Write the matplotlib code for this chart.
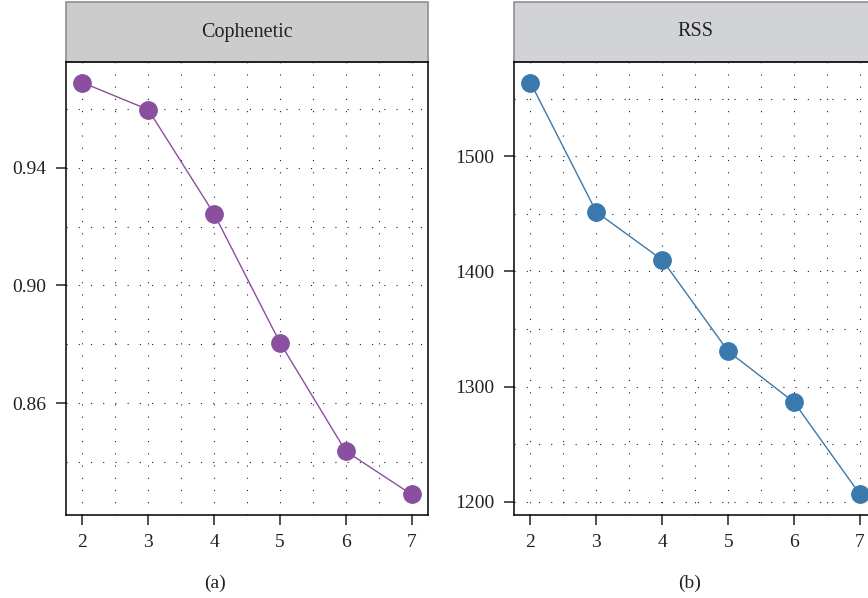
import numpy as np
import matplotlib.pyplot as plt
from matplotlib.patches import Rectangle
from matplotlib.ticker import FixedLocator

# ranks and measures
ranks = [2, 3, 4, 5, 6, 7]
cophenetic = [0.9689, 0.9597, 0.9243, 0.8806, 0.8437, 0.8290]
rss = [1564, 1451.6, 1410, 1330.7, 1286.4, 1206.4]

titles = ["Cophenetic", "RSS"]
captions = ["(a)", "(b)"]
colors = ["#8A4F9E", "#3A79AD"]
strip_fill = ["#CCCCCC", "#D1D3D6"]

y_major = [[0.86, 0.90, 0.94], [1200, 1300, 1400, 1500]]
y_minor = [[0.84, 0.88, 0.92, 0.96], [1250, 1350, 1450, 1550]]
y_labels = [["0.86", "0.90", "0.94"], ["1200", "1300", "1400", "1500"]]
x_minor = [2.5, 3.5, 4.5, 5.5, 6.5]

plt.rcParams['font.family'] = ['Liberation Serif', 'DejaVu Serif']

W, H = 868, 598
fig = plt.figure(figsize=(W / 100, H / 100), dpi=100)

# pixel boxes of the two panels (left, top, right, bottom)
boxes = [(66, 62, 428, 515), (514, 62, 876.5, 515)]
series = [cophenetic, rss]

for i in range(2):
    l, t, r, b = boxes[i]
    ax = fig.add_axes([l / W, (H - b) / H, (r - l) / W, (b - t) / H])
    y = series[i]
    ax.plot(ranks, y, color=colors[i], lw=1.0, marker="o", ms=12.5,
            mfc=colors[i], mec=colors[i], zorder=3, clip_on=False)

    span = max(y) - min(y)
    ax.set_ylim(min(y) - 0.05 * span, max(y) + 0.05 * span)
    ax.set_xlim(1.75, 7.25)
    ax.set_xticks(ranks)
    ax.xaxis.set_minor_locator(FixedLocator(x_minor))
    ax.set_yticks(y_major[i], y_labels[i])
    ax.yaxis.set_minor_locator(FixedLocator(y_minor[i]))

    ax.grid(True, which="both", color="#222222", lw=0.8, ls=(0, (1, 10)))
    ax.set_axisbelow(True)
    for s in ax.spines.values():
        s.set_color("black")
        s.set_linewidth(1.1)
    ax.tick_params(which="major", length=7, width=1.1, color="#222222",
                   labelsize=14, pad=7, labelcolor="#222222")
    ax.tick_params(which="minor", length=0)

    # facet strip above the panel
    sh = 60 / (b - t)
    ax.add_patch(Rectangle((0, 1), 1, sh, transform=ax.transAxes,
                           facecolor=strip_fill[i], edgecolor="#8F8F8F",
                           lw=1.2, clip_on=False))
    ax.text(0.5, 1 + sh / 2, titles[i], transform=ax.transAxes,
            ha="center", va="center", fontsize=14.5, color="#222222")

    cx = [215, 690][i]
    fig.text(cx / W, 1 - 583 / H, captions[i], ha="center", va="center",
             fontsize=14, color="#222222")

fig.savefig("out.png", dpi=100)
